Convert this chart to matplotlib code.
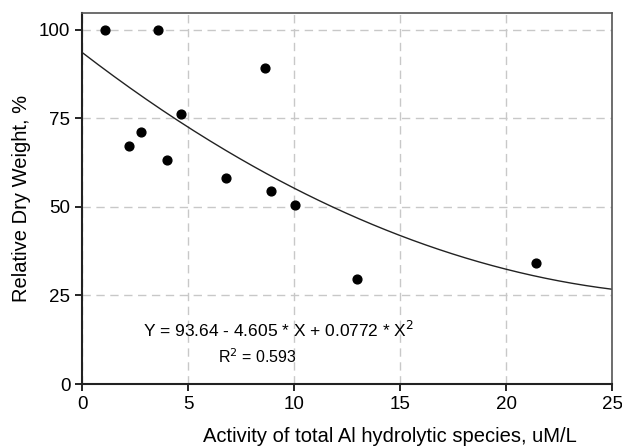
import numpy as np
import matplotlib.pyplot as plt

plt.rcParams['font.family'] = ['Liberation Sans', 'DejaVu Sans']

# measured points
activity = [1.1, 3.6, 2.2, 2.8, 4.0, 4.65, 6.8, 8.65, 8.9, 10.05, 12.95, 21.4]
dry_weight = [100, 100, 67.2, 71.2, 63.3, 76.3, 58.2, 89.3, 54.5, 50.6, 29.7, 34.2]

# quadratic fit coefficients from the figure
coef = [93.64, -4.605, 0.0772]
r2 = 0.593

fig, ax = plt.subplots(figsize=(6.22, 4.46), dpi=100)
fig.subplots_adjust(left=0.132, right=0.984, top=0.971, bottom=0.139)

xs = np.linspace(0, 25, 200)
ax.plot(xs, coef[0] + coef[1] * xs + coef[2] * xs ** 2, color='#222222', lw=1.0)
ax.scatter(activity, dry_weight, s=40, color='black', zorder=3)

ax.set_xlim(0, 25)
ax.set_ylim(0, 104.8)
ax.set_xticks([0, 5, 10, 15, 20, 25])
ax.set_yticks([0, 25, 50, 75, 100])
ax.grid(True, ls=(0, (6, 4)), color='#c8c8c8', lw=1.0)
ax.set_axisbelow(True)
ax.tick_params(axis='both', labelsize=13.5, length=5, width=1.2, direction='out')
for side in ['left', 'bottom']:
    ax.spines[side].set_linewidth(1.5)
    ax.spines[side].set_color('#222222')
for side in ['top', 'right']:
    ax.spines[side].set_linewidth(1.2)
    ax.spines[side].set_color('#555555')

ax.set_xlabel('Activity of total Al hydrolytic species, uM/L', fontsize=14.5, labelpad=10)
ax.xaxis.set_label_coords(0.58, -0.115)
ax.set_ylabel('Relative Dry Weight, %', fontsize=14.5, labelpad=6)

ax.text(2.88, 15.3, 'Y = %.2f - %.3f * X + %.4f * X$^2$' % (coef[0], -coef[1], coef[2]),
        fontsize=12.5, va='center')
ax.text(6.4, 7.6, 'R$^2$ = %.3f' % r2, fontsize=11.5, va='center')

plt.savefig('out.png', dpi=100)
